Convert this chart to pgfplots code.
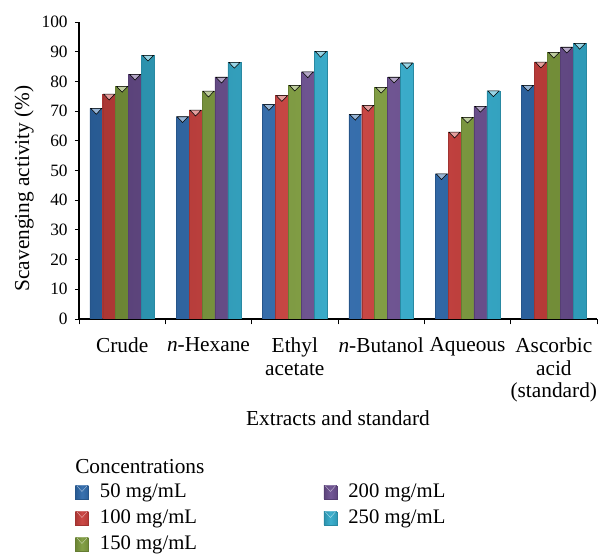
\documentclass[border=0pt]{standalone}
\usepackage{fontspec}
\setmainfont{Liberation Serif}
\usepackage{pgfplots}
\usepackage{pgfplotstable}
\pgfplotsset{compat=1.18}

\definecolor{cA}{HTML}{2F6AAC}
\definecolor{cB}{HTML}{C9403D}
\definecolor{cC}{HTML}{7E9C3E}
\definecolor{cD}{HTML}{6B4F90}
\definecolor{cE}{HTML}{33ABCB}

\pgfplotstableread{
x c50 c100 c150 c200 c250
0 70.9 75.7 78.3 82.4 88.8
1 68.1 70.3 76.7 81.4 86.4
2 72.2 75.2 78.7 83.2 90.1
3 68.9 71.9 78.0 81.4 86.2
4 48.9 62.9 67.9 71.6 76.8
5 78.7 86.5 89.8 91.5 92.8
}\datatable

\pgfplotsset{
  mybar/.style n args={2}{ybar, bar width=0.15, bar shift=#2,
    draw=#1!80!black, line width=0.3pt,
    left color=#1!85!black, right color=#1!90!black, middle color=#1!95!white,
    legend image code/.code={
      \fill[left color=#1!85!black, right color=#1!90!black, middle color=#1!95!white]
        (0pt,-4.875pt) rectangle (9.75pt,4.875pt);
      \fill[#1!45!white] (1pt,4.875pt) -- (8.75pt,4.875pt) -- (4.875pt,0.6pt) -- cycle;}},
  mytri/.style={only marks, forget plot, draw=none, fill=#1!50!white,
    mark=triangle*, mark size=4.8pt,
    mark options={yshift=-1.45pt, rotate=180, yscale=0.6, fill=#1!50!white, draw=none}},
}

\begin{document}
\begin{tikzpicture}
\useasboundingbox (-59.25pt,-177.75pt) rectangle (393.75pt,239.25pt);
\begin{axis}[
  at={(0,0)}, anchor=south west,
  scale only axis, width=388.5pt, height=222.75pt,
  xmin=-0.5, xmax=5.5, ymin=0, ymax=100,
  axis lines=left, axis line style={-, line width=1.1pt},
  tick align=outside,
  tick style={black, line width=0.6pt},
  major tick length=3pt, minor tick length=4pt,
  xtick={0,...,5},
  xticklabels={Crude, \textit{n}-Hexane, Ethyl\\acetate, \textit{n}-Butanol, Aqueous, Ascorbic\\acid\\(standard)},
  major x tick style={draw=none},
  minor xtick={-0.5,0.5,...,5.5},
  xticklabel style={align=center, font=\fontsize{16}{17}\selectfont, yshift=-7.5pt},
  ytick={0,10,...,100},
  yticklabel style={font=\fontsize{13}{15}\selectfont, xshift=-2pt},
  /pgf/number format/assume math mode=true,
  xlabel={Extracts and standard},
  xlabel style={at={(axis description cs:0.5,-0.3333)}, anchor=center, font=\fontsize{16}{18}\selectfont},
  ylabel={Scavenging activity (\%)},
  ylabel style={at={(axis description cs:-0.106,0.44)}, anchor=center, font=\fontsize{16}{18}\selectfont},
  legend columns=3, transpose legend, legend cell align=left,
  legend style={at={(axis description cs:0,0)}, anchor=north west, xshift=-3pt, yshift=-123pt,
    draw=none, fill=none, inner sep=0pt, row sep=6pt,
    font=\fontsize{15.5}{17}\selectfont,
    nodes={inner sep=0pt, text height=10.5pt, text depth=3pt},
    /tikz/every odd column/.append style={column sep=8.5pt},
    /tikz/every even column/.append style={column sep=95pt}},
]
\addplot[mybar={cA}{-0.30}] table[x=x, y=c50] {\datatable};
\addlegendentry{50 mg/mL}
\addplot[mybar={cB}{-0.15}] table[x=x, y=c100] {\datatable};
\addlegendentry{100 mg/mL}
\addplot[mybar={cC}{0}] table[x=x, y=c150] {\datatable};
\addlegendentry{150 mg/mL}
\addplot[mybar={cD}{0.15}] table[x=x, y=c200] {\datatable};
\addlegendentry{200 mg/mL}
\addplot[mybar={cE}{0.30}] table[x=x, y=c250] {\datatable};
\addlegendentry{250 mg/mL}
\addplot[mytri=cA] table[x expr=\thisrow{x}-0.30, y=c50] {\datatable};
\addplot[mytri=cB] table[x expr=\thisrow{x}-0.15, y=c100] {\datatable};
\addplot[mytri=cC] table[x expr=\thisrow{x}, y=c150] {\datatable};
\addplot[mytri=cD] table[x expr=\thisrow{x}+0.15, y=c200] {\datatable};
\addplot[mytri=cE] table[x expr=\thisrow{x}+0.30, y=c250] {\datatable};
\end{axis}
\node[anchor=west, inner sep=0pt, font=\fontsize{16}{18}\selectfont] at (-3pt,-111pt) {Concentrations};
\end{tikzpicture}
\end{document}
